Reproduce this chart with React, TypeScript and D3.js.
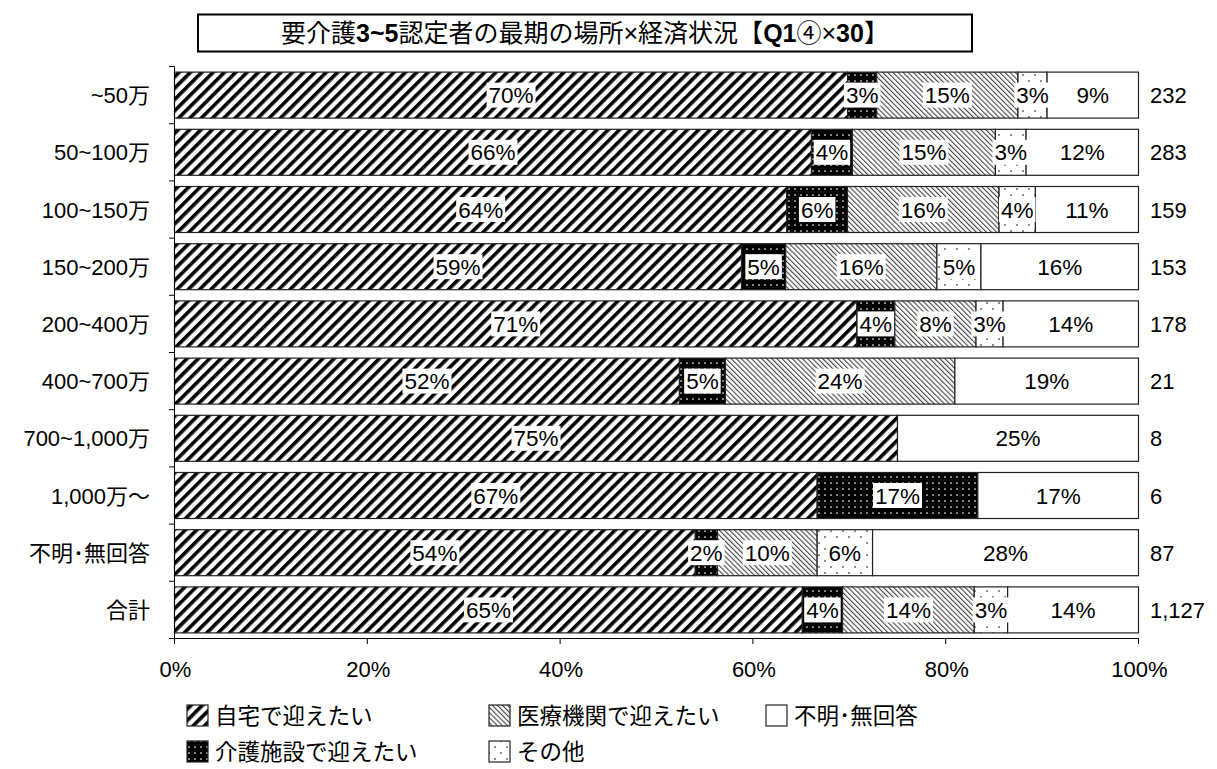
import React, { useEffect } from "react";
import * as d3 from "d3";

const categories = ["~50万", "50~100万", "100~150万", "150~200万", "200~400万", "400~700万", "700~1,000万", "1,000万～", "不明･無回答", "合計"];
const seriesNames = ["自宅で迎えたい", "介護施設で迎えたい", "医療機関で迎えたい", "その他", "不明･無回答"];
// respondent counts per category (consistent with the shown percentages and n)
const homeCounts = [162, 187, 101, 90, 126, 11, 6, 4, 47, 734];
const facilityCounts = [7, 12, 10, 7, 7, 1, 0, 1, 2, 47];
const hospitalCounts = [34, 42, 25, 24, 15, 5, 0, 0, 9, 154];
const otherCounts = [7, 9, 6, 7, 5, 0, 0, 0, 5, 39];
const unknownCounts = [22, 33, 17, 25, 25, 4, 2, 1, 24, 153];
const totals = [232, 283, 159, 153, 178, 21, 8, 6, 87, 1127];
const xTicks = [0, 20, 40, 60, 80, 100];

const FONT = "'Liberation Sans', Arial, 'Noto Sans CJK JP', sans-serif";
const fills = ["url(#pHome)", "url(#pFacility)", "url(#pHospital)", "url(#pOther)", "#ffffff"];

export default function App() {
  useEffect(() => {
    document.body.style.margin = "0";
  }, []);
  const W = 1217, H = 769;
  const x = d3.scaleLinear().domain([0, 100]).range([174.5, 1138.5]);
  const y = d3.scaleBand<string>().domain(categories).range([66.5, 638.5]).padding(0);
  const step = y.step();
  const barH = 46;
  const inset = (step - barH) / 2;
  const seriesCounts = [homeCounts, facilityCounts, hospitalCounts, otherCounts, unknownCounts];

  const rows = categories.map((c, i) => {
    const vals = seriesCounts.map((s) => (s[i] / totals[i]) * 100);
    const stack = d3.stack<number[]>().keys(d3.range(5) as any).value((d: any, k: any) => d[k])([vals] as any);
    return { c, i, segs: stack.map((layer, k) => ({ k, x0: layer[0][0], x1: layer[0][1], v: vals[k] })) };
  });

  const LF = 22.5;
  const textW = (s: string) => s.split("").reduce((a, ch) => a + (ch === "%" ? 0.889 : 0.556) * LF, 0);

  return (
    <svg width={W} height={H} style={{ position: "absolute", left: 0, top: 0, background: "#fff" }} fontFamily={FONT}>
      <defs>
        <pattern id="pHome" patternUnits="userSpaceOnUse" width="8" height="8" patternTransform="rotate(45)">
          <rect width="8" height="8" fill="#fff" />
          <rect x="0" y="0" width="3.6" height="8" fill="#000" />
        </pattern>
        <pattern id="pHospital" patternUnits="userSpaceOnUse" width="3.6" height="8" patternTransform="rotate(-45)">
          <rect width="3.6" height="8" fill="#fff" />
          <rect x="0" y="0" width="1.1" height="8" fill="#444" />
        </pattern>
        <pattern id="pFacility" patternUnits="userSpaceOnUse" width="6" height="6">
          <rect width="6" height="6" fill="#000" />
          <circle cx="3" cy="3" r="0.85" fill="#fff" />
        </pattern>
        <pattern id="pOther" patternUnits="userSpaceOnUse" width="12" height="12">
          <rect width="12" height="12" fill="#fff" />
          <circle cx="3" cy="3" r="0.8" fill="#000" />
          <circle cx="9" cy="9" r="0.8" fill="#000" />
        </pattern>
      </defs>

      {/* title */}
      <rect x={198} y={14.5} width={774} height={37} fill="#fff" stroke="#000" strokeWidth={2} />
      <text x={585} y={42} textAnchor="middle" fontSize={25} fill="#000">
        <tspan>要介護</tspan>
        <tspan fontWeight="bold">3~5</tspan>
        <tspan>認定者の最期の場所×経済状況【</tspan>
        <tspan fontWeight="bold">Q1</tspan>
        <tspan>④×</tspan>
        <tspan fontWeight="bold">30</tspan>
        <tspan>】</tspan>
      </text>

      {/* bars */}
      {rows.map((r) => {
        const by = (y(r.c) as number) + inset;
        return (
          <g key={r.c}>
            {r.segs.filter((s) => s.v > 0).map((s) => (
              <rect key={s.k} x={x(s.x0)} y={by} width={x(s.x1) - x(s.x0)} height={barH} fill={fills[s.k]} stroke="#222" strokeWidth={1.2} />
            ))}
            {r.segs.filter((s) => s.v > 0).map((s) => {
              const label = `${Math.round(s.v)}%`;
              const cx = (x(s.x0) + x(s.x1)) / 2;
              const tw = textW(label);
              const cy = by + barH / 2;
              return (
                <g key={"l" + s.k}>
                  <rect x={cx - tw / 2 - 2} y={cy - 12.5} width={tw + 4} height={25} fill="#fff" />
                  <text x={cx} y={cy + 8} textAnchor="middle" fontSize={LF} fill="#000">{label}</text>
                </g>
              );
            })}
            <text x={150} y={by + barH / 2 + 8} textAnchor="end" fontSize={22} fill="#000">{r.c}</text>
            <text x={1150} y={by + barH / 2 + 8} textAnchor="start" fontSize={22} fill="#000">{d3.format(",")(totals[r.i])}</text>
          </g>
        );
      })}

      {/* axes */}
      <line x1={174.5} x2={174.5} y1={66.5} y2={638.5} stroke="#000" strokeWidth={1} />
      {d3.range(categories.length + 1).map((k) => (
        <line key={k} x1={169} x2={174.5} y1={66.5 + k * step} y2={66.5 + k * step} stroke="#000" />
      ))}
      <line x1={174.5} x2={1138.5} y1={638.5} y2={638.5} stroke="#000" strokeWidth={1} />
      {xTicks.map((t) => (
        <g key={t}>
          <line x1={x(t)} x2={x(t)} y1={638.5} y2={644} stroke="#000" />
          <text x={x(t) + 1} y={677} textAnchor="middle" fontSize={22} fill="#000">{t}%</text>
        </g>
      ))}

      {/* legend */}
      {[
        { k: 0, lx: 187, ly: 705 },
        { k: 2, lx: 489, ly: 705 },
        { k: 4, lx: 766, ly: 705 },
        { k: 1, lx: 187, ly: 741 },
        { k: 3, lx: 489, ly: 741 },
      ].map((it) => (
        <g key={it.k}>
          <rect x={it.lx} y={it.ly} width={21} height={21} fill={fills[it.k]} stroke="#222" strokeWidth={1.2} />
          <text x={it.lx + 28} y={it.ly + 19} fontSize={22.5} fill="#000">{seriesNames[it.k]}</text>
        </g>
      ))}
    </svg>
  );
}
